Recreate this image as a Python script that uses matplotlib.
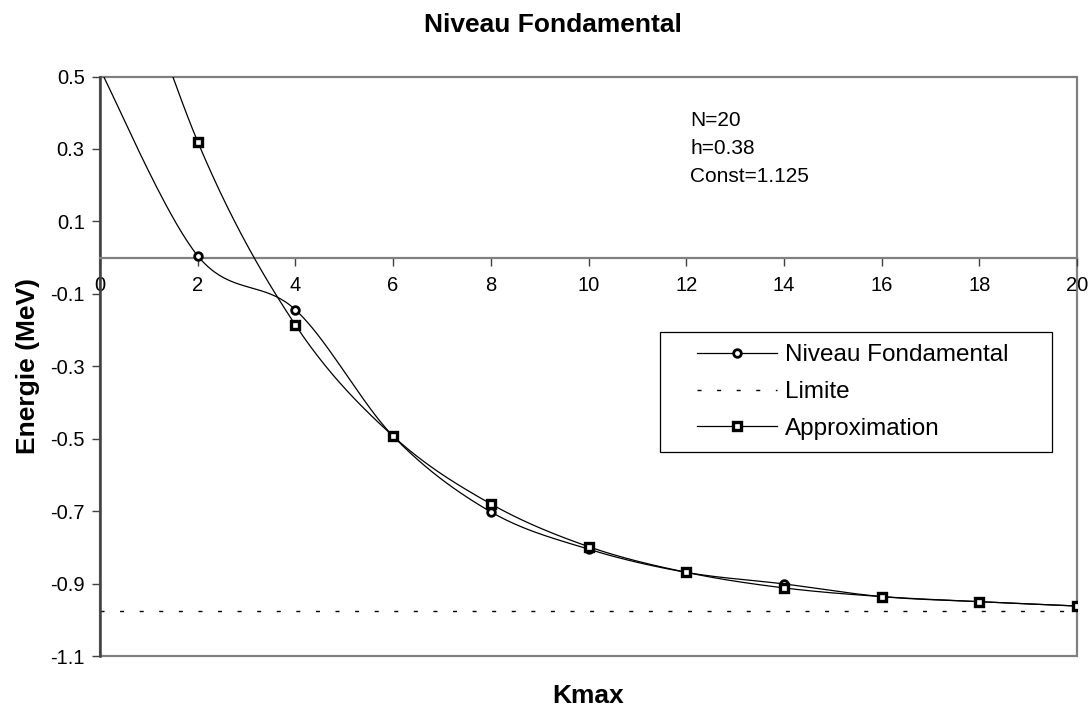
import numpy as np
import matplotlib.pyplot as plt
from matplotlib.patches import Rectangle

plt.rcParams['font.family'] = ['Liberation Sans', 'DejaVu Sans']
plt.rcParams['axes.unicode_minus'] = False

W, H = 1089, 708

# données
kmax = [0, 2, 4, 6, 8, 10, 12, 14, 16, 18, 20]
niveau = [0.52, 0.005, -0.144, -0.493, -0.702, -0.805, -0.869, -0.901, -0.936, -0.950, -0.962]
approx = [1.10, 0.320, -0.186, -0.493, -0.680, -0.798, -0.869, -0.912, -0.936, -0.950, -0.962]
limite = -0.975

xticks = [0, 2, 4, 6, 8, 10, 12, 14, 16, 18, 20]
yticks = [-1.1, -0.9, -0.7, -0.5, -0.3, -0.1, 0.1, 0.3, 0.5]
ytick_labels = ["-1.1", "-0.9", "-0.7", "-0.5", "-0.3", "-0.1", "0.1", "0.3", "0.5"]
infos = ["N=20", "h=0.38", "Const=1.125"]


def smooth(x, y, n=40):
    # courbe lissee type Excel (Bezier / Catmull-Rom)
    x = np.asarray(x, float)
    y = np.asarray(y, float)
    P = np.column_stack([x, y])
    P = np.vstack([P[0], P, P[-1]])
    t = np.linspace(0, 1, n, endpoint=False)[:, None]
    out = []
    for i in range(len(x) - 1):
        p0, p1, p2, p3 = P[i], P[i + 1], P[i + 2], P[i + 3]
        c1 = p1 + (p2 - p0) / 6
        c2 = p2 - (p3 - p1) / 6
        seg = ((1 - t) ** 3) * p1 + 3 * ((1 - t) ** 2) * t * c1 + 3 * (1 - t) * t ** 2 * c2 + t ** 3 * p2
        out.append(seg)
    out.append(P[-1][None, :])
    out = np.vstack(out)
    idx = [i * n for i in range(len(x))]
    return out[:, 0], out[:, 1], idx


fig = plt.figure(figsize=(W / 100, H / 100), dpi=100)
ax = fig.add_axes([100 / W, 1 - 656 / H, 977 / W, 579.5 / H])
ax.set_xlim(0, 20)
ax.set_ylim(-1.1, 0.5)

sx, sy, idx = smooth(kmax, niveau)
ax.plot(sx, sy, color='black', lw=0.9, marker='o', markevery=idx[1:], ms=5.5, mew=2.0,
        mfc='white', mec='black', label='Niveau Fondamental', zorder=3)
ax.plot(kmax, [limite] * len(kmax), color='black', lw=1, dashes=(2.9, 11.2),
        label='Limite', zorder=2)
sx, sy, idx = smooth(kmax, approx)
ax.plot(sx, sy, color='black', lw=0.9, marker='s', markevery=idx[1:], ms=6, mew=2.4,
        mfc='white', mec='black', label='Approximation', zorder=4)

# cadre
for s in ['top', 'right']:
    ax.spines[s].set_visible(False)
ax.add_patch(Rectangle((0, 0), 1, 1, transform=ax.transAxes, fill=False,
                       ec='#808080', lw=1.6, clip_on=False, zorder=1))
ax.spines['bottom'].set_position(('data', 0))
ax.spines['bottom'].set_color('#808080')
ax.spines['bottom'].set_linewidth(1.6)
ax.spines['left'].set_color('#404040')
ax.spines['left'].set_linewidth(1.8)

ax.set_xticks(xticks)
ax.set_xticklabels([str(v) for v in xticks])
ax.set_yticks(yticks)
ax.set_yticklabels(ytick_labels)
ax.tick_params(axis='x', direction='out', length=6, width=1, color='#404040',
               labelsize=14.5, pad=7)
ax.tick_params(axis='y', direction='out', length=6, width=1, color='#404040',
               labelsize=14.5, pad=5)

leg = fig.legend(loc='center left', bbox_to_anchor=(697 / W, 1 - 392 / H),
                 frameon=False, fontsize=17.5, borderpad=0, borderaxespad=0,
                 handlelength=3.3, handletextpad=0.33, labelspacing=0.6, numpoints=1)
fig.add_artist(Rectangle((660 / W, 1 - 452 / H), 392 / W, 120 / H, transform=fig.transFigure,
                         fill=False, ec='black', lw=0.9))

for i, s in enumerate(infos):
    fig.text(690 / W, 1 - (126 + 27.8 * i) / H, s, fontsize=15, va='baseline', ha='left')

fig.text(553 / W, 1 - 31.7 / H, 'Niveau Fondamental', fontsize=19, fontweight='bold',
         ha='center', va='baseline')
fig.text(588.5 / W, 1 - 703 / H, 'Kmax', fontsize=19, fontweight='bold',
         ha='center', va='baseline')
fig.text(28 / W, 1 - 366 / H, 'Energie (MeV)', fontsize=19, fontweight='bold',
         rotation=90, ha='center', va='center')

fig.savefig('out.png', dpi=100)
